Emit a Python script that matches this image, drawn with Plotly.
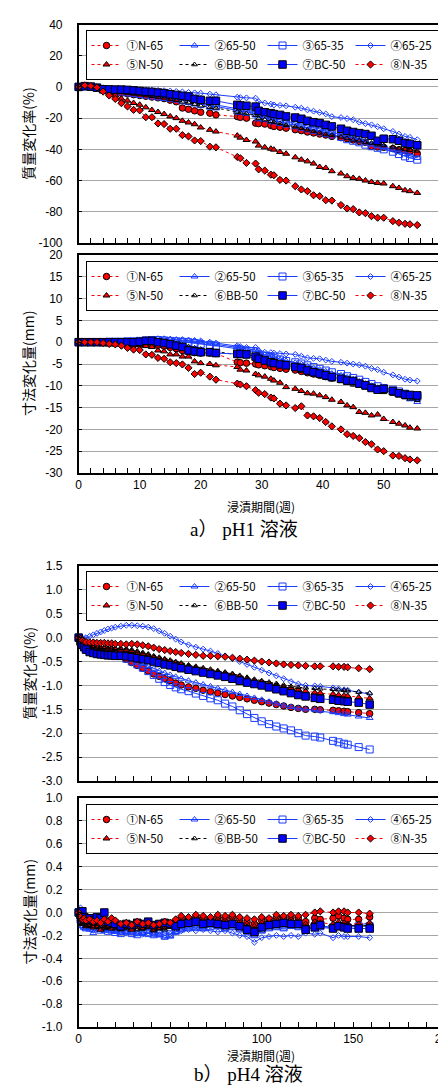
import plotly.graph_objects as go

# ---------------- labels ----------------
LABELS = ["①N-65", "②65-50", "③65-35", "④65-25", "⑤N-50", "⑥BB-50", "⑦BC-50", "⑧N-35"]

# ---------------- pH1 data (weeks) ----------------
WEEKS_PH1 = [0, 1, 2, 3, 4, 5, 6, 7, 8, 9, 10, 11, 12, 13, 14, 15, 16, 17, 18, 19, 20, 21.5, 22.5,
             26, 26.5, 27.5, 29, 29.5, 30.5, 31.5, 32, 33, 34, 35.5, 36.5, 37.5, 38.5, 39.5, 40.5, 41.5,
             43, 44, 45, 46, 47, 48, 49, 50, 51.5, 52.5, 53.5, 54.3, 55.5]

# mass change (%)
PH1_MASS_1 = [0, 0.5, 0, -0.5, -1.5, -2.5, -3.5, -4, -4.5, -5, -5.5, -6, -6.5, -7, -7.5, -8.5, -9.5, -13.5, -14.3, -15.3, -16.2, -16.8, -17.9,
              -19, -19.5, -20, -23.2, -23.5, -23.8, -24.7, -25.3, -25.8, -26.4, -27.4, -28, -28.9, -29.5, -30.2, -30.8, -31.7,
              -32.5, -33.2, -34, -34.9, -35.5, -38.1, -38.5, -38.7, -39.5, -40.2, -40.8, -41.3, -42.8]
PH1_MASS_2 = [0, 0.3, 0, -0.3, -1, -1.5, -2, -2.5, -3, -3.5, -4, -4.5, -5, -5.5, -6, -6.5, -7, -7.5, -8, -9, -10, -11, -11.5,
              -14, -14.5, -15, -16, -18, -18.8, -19.5, -20, -21, -22, -23, -24, -25, -26, -27, -28, -29,
              -30.5, -31.5, -33, -34, -35, -36.5, -37.5, -38.5, -40, -41.5, -43, -44, -45.5]
PH1_MASS_3 = [0, 0.3, 0, -0.5, -1.5, -2, -2.5, -3, -3.5, -4, -4.5, -5, -5.5, -6, -6.5, -7, -7.5, -8.5, -9, -10, -11, -12, -12.5,
              -15, -15.5, -16, -17, -19.5, -20, -21, -21.5, -22.5, -23.5, -24.5, -25.5, -26.5, -27.5, -28.5, -29.5, -30.5,
              -32, -33.5, -34.5, -35.5, -37, -38, -39, -40, -41.5, -43, -44.5, -45.5, -46.6]
PH1_MASS_4 = [0, 0.5, 0.3, 0, -0.5, -0.8, -1, -1.2, -1.3, -1.5, -1.7, -1.9, -2, -2.2, -2.4, -2.6, -2.9, -3.2, -3.5, -3.8, -4, -4.6, -5,
              -6.6, -6.8, -7.0, -7.2, -9.5, -10.3, -11.0, -11.5, -11.8, -12.1, -13.0, -13.6, -14.7, -15.5, -16.4, -17.3, -19,
              -19.6, -20.3, -21, -22.6, -23.5, -24.3, -25.5, -26.8, -28.5, -30.2, -31.7, -32.3, -33.8]
PH1_MASS_5 = [0, 1, 0.5, -0.3, -2.5, -4, -5.4, -7.5, -8.8, -10.3, -11.4, -13.1, -14.8, -16.1, -17.4, -18.9, -20, -21.7, -22.8, -23.9, -26, -27.5, -28.6,
              -31.2, -32.5, -34, -35, -37.6, -38.7, -39.6, -40.2, -41.7, -42.8, -45.1, -46.6, -47.7, -49.1, -51.3, -51.9, -54,
              -55.5, -57.2, -58.3, -58.9, -60, -60.9, -61.5, -61.9, -63.6, -64.7, -66.2, -66.8, -67.9]
PH1_MASS_6 = [0, 0.3, 0, -0.5, -1.5, -2, -3, -3.5, -4, -4.5, -5, -5.5, -6, -6.5, -7, -8, -8.5, -9.5, -10, -11, -12, -13, -13.5,
              -16, -16.5, -17, -18, -20, -21, -22, -22.5, -23.5, -24.5, -25.5, -26.5, -27.5, -28.5, -29.5, -30.5, -31,
              -32, -33, -34, -34.5, -35.5, -36, -37, -37.5, -38.5, -39.5, -40, -40.5, -41]
PH1_MASS_7 = [0, 0.5, 0.2, -0.5, -1.5, -1.6, -1.7, -1.7, -1.9, -2.2, -2.6, -3, -3.2, -3.6, -4, -4.7, -5.1, -5.7, -6.2, -7.7, -8.3, -8.9, -8.9,
              -11.5, -11.9, -12.1, -12.6, -15.3, -16.2, -16.8, -17.4, -17.9, -18.9, -19.6, -20.4, -21.7, -22.6, -23.2, -24.3, -25.3,
              -26.8, -28.1, -28.9, -29.6, -30.2, -31.3, -34.5, -33.2, -33.5, -34.5, -36, -36.5, -37.4]
PH1_MASS_8 = [0, 1, 0.6, -0.3, -3, -5.5, -7.7, -10.4, -12.5, -14.7, -15, -19.4, -19.4, -23.4, -23.8, -26.8, -26.8, -30.9, -31.7, -34.3, -34.7, -38.3, -38.7,
              -44.9, -45.7, -48.7, -49.1, -52.8, -53.6, -56.2, -56.6, -59.6, -60, -63.6, -65.7, -66.8, -69.4, -70, -72.6, -72.8,
              -75.7, -77.9, -78.3, -80.4, -80.9, -82.8, -83.8, -83.8, -86, -87, -87.7, -88, -88.5]

# dimension change (mm)
PH1_SIZE_1 = [0, 0, 0, 0, -0.1, -0.2, -0.3, -0.4, -0.5, -0.6, -0.5, -0.4, -0.5, -0.7, -0.9, -1.2, -1.5, -1.9, -2.2, -2.4, -2.5, -2.5, -2.6,
              -4.6, -4.7, -4.8, -5.0, -5.2, -5.4, -5.6, -5.8, -6.0, -6.2, -6.4, -6.7, -7.0, -7.3, -7.6, -7.9, -8.2,
              -8.5, -8.8, -9.1, -9.5, -9.8, -10.2, -10.6, -10.9, -11.3, -11.7, -12.0, -12.3, -12.6]
PH1_SIZE_2 = [0, 0, 0, 0, 0.1, 0.1, 0.2, 0.2, 0.2, 0.3, 0.4, 0.6, 0.7, 0.8, 0.7, 0.6, 0.5, 0.4, 0.3, 0.2, 0, -0.3, -0.5,
              -1.2, -1.4, -1.6, -1.8, -2.5, -2.9, -3.3, -3.6, -4.0, -4.3, -4.7, -5.0, -5.5, -5.9, -6.3, -6.7, -7.2,
              -7.6, -8.1, -8.5, -9.0, -9.5, -10.0, -10.6, -11.0, -11.6, -12.1, -12.6, -13.1, -13.7]
PH1_SIZE_3 = [0, 0, 0, 0, 0, 0.1, 0.1, 0.1, 0.2, 0.2, 0.3, 0.4, 0.5, 0.5, 0.4, 0.3, 0.2, 0.1, 0, -0.2, -0.4, -0.6, -0.8,
              -1.5, -1.7, -1.9, -2.1, -2.8, -3.1, -3.4, -3.7, -4.0, -4.3, -4.6, -4.9, -5.3, -5.7, -6.1, -6.5, -6.9,
              -7.3, -7.8, -8.2, -8.6, -9.1, -9.6, -10.1, -10.5, -10.9, -11.3, -11.8, -12.2, -12.6]
PH1_SIZE_4 = [0, 0, 0, 0, 0.1, 0.1, 0.2, 0.2, 0.2, 0.3, 0.4, 0.5, 0.6, 0.7, 0.8, 0.7, 0.6, 0.6, 0.5, 0.4, 0.3, 0, -0.2,
              -0.8, -1.0, -1.2, -1.2, -1.9, -2.3, -2.4, -2.5, -2.6, -2.7, -2.8, -3.2, -3.6, -3.7, -3.8, -4.1, -4.4,
              -4.6, -4.8, -5.0, -5.2, -5.5, -6.0, -6.3, -6.9, -7.5, -8.0, -8.5, -8.7, -8.9]
PH1_SIZE_5 = [0, 0, 0, 0, -0.1, -0.2, -0.3, -0.4, -0.5, -0.6, -0.7, -0.9, -1.1, -1.9, -2.1, -2.8, -2.8, -3.3, -3.3, -4.4, -4.8, -5.0, -5.3,
              -5.7, -6.3, -6.5, -7.3, -7.6, -7.9, -8.4, -8.8, -9.3, -10.3, -10.7, -11.2, -11.7, -11.8, -12.2, -12.6, -13.2,
              -13.7, -14.5, -14.9, -16, -16.2, -16.8, -16.6, -17.6, -18.3, -18.7, -19.1, -19.6, -19.8]
PH1_SIZE_6 = [0, 0, 0, 0, 0, 0, 0, 0.1, 0.1, 0.2, 0.2, 0.3, 0.3, 0.2, 0, -0.2, -0.4, -0.7, -1.0, -1.3, -1.6, -1.9, -2.1,
              -2.9, -3.1, -3.3, -3.6, -4.1, -4.4, -4.8, -5.1, -5.5, -5.8, -6.2, -6.6, -7.0, -7.4, -7.8, -8.2, -8.6,
              -9.0, -9.4, -9.8, -10.1, -10.5, -10.8, -11.2, -11.5, -11.9, -12.3, -12.7, -13.0, -13.3]
PH1_SIZE_7 = [0, 0, 0, 0, 0, 0, 0, 0, 0, 0, 0.1, 0.3, 0.3, 0, -0.2, -0.5, -0.8, -1.1, -1.9, -2.1, -2.3, -2.3, -2.5,
              -2.7, -2.7, -2.8, -3.3, -3.8, -4.2, -4.6, -4.8, -5.1, -5.3, -5.7, -5.9, -6.5, -6.9, -7.2, -7.6, -8.0,
              -8.4, -8.8, -8.9, -9.5, -9.9, -10.5, -10.9, -10.7, -11.2, -11.7, -12.0, -12.1, -12.2]
PH1_SIZE_8 = [0, 0, 0, 0, -0.2, -0.4, -0.5, -0.8, -1.3, -1.7, -1.8, -2.8, -2.9, -3.6, -3.8, -4.6, -4.8, -5.1, -5.9, -7.3, -7.0, -7.9, -8.6,
              -9.5, -9.7, -10.1, -11, -11.6, -11.9, -12.7, -12.9, -14.1, -14.5, -15.1, -14.7, -16.8, -17, -17.4, -18.3, -19.3,
              -20, -21.1, -21.5, -22, -22.9, -23.4, -24.6, -25, -26, -26.1, -26.6, -26.9, -27.1]

# ---------------- pH4 data (weeks) ----------------
WEEKS_PH4 = [0, 1, 2, 3, 4, 6, 8, 10, 12, 14, 16, 18, 20, 23, 26, 29, 32, 35, 38, 41, 44, 47, 50, 53, 56,
             60, 64, 68, 72, 76, 80, 84, 88, 92, 96, 100, 104, 108, 112, 116, 120, 124, 129, 132, 139, 142, 145, 147, 153, 159]

PH4_MASS_1 = [0, -0.05, -0.1, -0.14, -0.17, -0.21, -0.24, -0.26, -0.27, -0.28, -0.29, -0.3, -0.31, -0.32, -0.45, -0.52, -0.58, -0.64, -0.7, -0.76,
              -0.81, -0.86, -0.9, -0.95, -0.99, -1.03, -1.06, -1.1, -1.13, -1.16, -1.19, -1.22, -1.25, -1.28, -1.31, -1.34, -1.37, -1.4, -1.43, -1.46,
              -1.48, -1.5, -1.5, -1.51, -1.52, -1.53, -1.54, -1.55, -1.57, -1.59]
PH4_MASS_2 = [0, -0.06, -0.12, -0.16, -0.2, -0.24, -0.27, -0.29, -0.3, -0.31, -0.32, -0.33, -0.34, -0.36, -0.4, -0.45, -0.5, -0.55, -0.6, -0.65,
              -0.7, -0.74, -0.78, -0.82, -0.86, -0.9, -0.94, -0.98, -1.02, -1.06, -1.1, -1.14, -1.18, -1.22, -1.26, -1.3, -1.34, -1.38, -1.42, -1.45,
              -1.48, -1.5, -1.51, -1.53, -1.56, -1.58, -1.6, -1.61, -1.65, -1.68]
PH4_MASS_3 = [0, -0.06, -0.12, -0.17, -0.21, -0.25, -0.28, -0.3, -0.31, -0.32, -0.33, -0.34, -0.35, -0.38, -0.44, -0.5, -0.56, -0.63, -0.7, -0.78,
              -0.86, -0.93, -0.99, -1.04, -1.08, -1.12, -1.17, -1.22, -1.27, -1.31, -1.38, -1.44, -1.52, -1.6, -1.68, -1.75, -1.81, -1.86, -1.9, -1.94,
              -2.0, -2.05, -2.07, -2.09, -2.16, -2.19, -2.22, -2.24, -2.29, -2.34]
PH4_MASS_4 = [0, -0.02, -0.03, -0.02, 0, 0.03, 0.06, 0.09, 0.12, 0.15, 0.18, 0.2, 0.22, 0.24, 0.26, 0.26, 0.25, 0.24, 0.22, 0.19,
              0.14, 0.09, 0.03, -0.03, -0.09, -0.15, -0.2, -0.24, -0.28, -0.33, -0.38, -0.44, -0.5, -0.56, -0.62, -0.68, -0.74, -0.8, -0.86, -0.92,
              -0.97, -1.0, -1.01, -1.02, -1.05, -1.07, -1.09, -1.1, -1.14, -1.18]
PH4_MASS_5 = [0, -0.05, -0.09, -0.12, -0.15, -0.18, -0.2, -0.21, -0.22, -0.22, -0.23, -0.23, -0.24, -0.25, -0.26, -0.28, -0.31, -0.34, -0.37, -0.41,
              -0.44, -0.47, -0.5, -0.53, -0.56, -0.6, -0.63, -0.66, -0.69, -0.72, -0.75, -0.78, -0.82, -0.86, -0.9, -0.93, -0.97, -1.0, -1.03, -1.06,
              -1.09, -1.12, -1.15, -1.16, -1.18, -1.2, -1.21, -1.22, -1.25, -1.27]
PH4_MASS_6 = [0, -0.04, -0.08, -0.1, -0.13, -0.16, -0.18, -0.19, -0.2, -0.2, -0.21, -0.21, -0.22, -0.22, -0.23, -0.25, -0.28, -0.31, -0.34, -0.38,
              -0.41, -0.44, -0.47, -0.5, -0.53, -0.57, -0.6, -0.63, -0.66, -0.69, -0.72, -0.75, -0.79, -0.83, -0.87, -0.9, -0.93, -0.96, -0.99, -1.02,
              -1.04, -1.05, -1.06, -1.07, -1.08, -1.09, -1.1, -1.11, -1.14, -1.16]
PH4_MASS_7 = [0, -0.08, -0.15, -0.2, -0.25, -0.3, -0.32, -0.34, -0.35, -0.36, -0.37, -0.37, -0.38, -0.38, -0.39, -0.41, -0.43, -0.45, -0.47, -0.5,
              -0.53, -0.56, -0.58, -0.61, -0.64, -0.67, -0.7, -0.73, -0.76, -0.79, -0.82, -0.86, -0.9, -0.94, -0.97, -1.0, -1.04, -1.08, -1.12, -1.16,
              -1.2, -1.23, -1.26, -1.28, -1.3, -1.32, -1.33, -1.34, -1.36, -1.4]
PH4_MASS_8 = [0, -0.03, -0.06, -0.08, -0.09, -0.1, -0.1, -0.11, -0.11, -0.11, -0.12, -0.12, -0.13, -0.13, -0.14, -0.13, -0.14, -0.16, -0.18, -0.21,
              -0.24, -0.26, -0.28, -0.3, -0.32, -0.34, -0.36, -0.38, -0.38, -0.39, -0.4, -0.42, -0.44, -0.46, -0.48, -0.5, -0.52, -0.54, -0.56, -0.57,
              -0.58, -0.59, -0.6, -0.6, -0.6, -0.61, -0.61, -0.62, -0.64, -0.66]

PH4_SIZE_1 = [0, -0.05, -0.08, -0.07, -0.09, -0.1, -0.08, -0.11, -0.09, -0.1, -0.12, -0.09, -0.1, -0.13, -0.11, -0.12, -0.1, -0.13, -0.11, -0.12,
              -0.1, -0.12, -0.11, -0.08, -0.05, -0.06, -0.04, -0.05, -0.06, -0.04, -0.05, -0.04, -0.06, -0.08, -0.1, -0.07, -0.06, -0.04, -0.05, -0.04,
              -0.05, -0.08, -0.05, -0.06, -0.05, -0.03, -0.05, -0.06, -0.06, -0.04]
PH4_SIZE_2 = [0, -0.08, -0.12, -0.13, -0.14, -0.15, -0.18, -0.14, -0.15, -0.16, -0.15, -0.16, -0.17, -0.18, -0.17, -0.18, -0.19, -0.18, -0.17, -0.19,
              -0.2, -0.22, -0.21, -0.17, -0.15, -0.14, -0.13, -0.14, -0.12, -0.13, -0.14, -0.13, -0.15, -0.17, -0.2, -0.16, -0.14, -0.13, -0.14, -0.12,
              -0.13, -0.15, -0.12, -0.13, -0.14, -0.12, -0.13, -0.12, -0.11, -0.09]
PH4_SIZE_3 = [0, -0.06, -0.1, -0.12, -0.13, -0.12, -0.14, -0.13, -0.15, -0.14, -0.16, -0.15, -0.17, -0.18, -0.16, -0.18, -0.19, -0.17, -0.18, -0.19,
              -0.18, -0.2, -0.19, -0.16, -0.14, -0.13, -0.12, -0.13, -0.12, -0.11, -0.13, -0.12, -0.14, -0.16, -0.19, -0.15, -0.13, -0.12, -0.13, -0.11,
              -0.12, -0.14, -0.12, -0.12, -0.13, -0.12, -0.12, -0.13, -0.12, -0.12]
PH4_SIZE_4 = [0, 0.04, 0.02, -0.08, -0.1, -0.12, -0.11, -0.13, -0.12, -0.14, -0.13, -0.15, -0.16, -0.17, -0.18, -0.17, -0.18, -0.19, -0.18, -0.19,
              -0.17, -0.18, -0.19, -0.17, -0.16, -0.15, -0.16, -0.15, -0.16, -0.17, -0.16, -0.18, -0.2, -0.21, -0.26, -0.22, -0.21, -0.2, -0.21, -0.2,
              -0.21, -0.18, -0.19, -0.18, -0.22, -0.2, -0.21, -0.21, -0.21, -0.22]
PH4_SIZE_5 = [0, -0.06, -0.1, -0.09, -0.12, -0.11, -0.13, -0.12, -0.15, -0.13, -0.12, -0.14, -0.12, -0.14, -0.13, -0.15, -0.13, -0.14, -0.12, -0.15,
              -0.14, -0.13, -0.12, -0.1, -0.08, -0.07, -0.06, -0.07, -0.08, -0.06, -0.07, -0.06, -0.08, -0.1, -0.12, -0.09, -0.08, -0.06, -0.07, -0.06,
              -0.07, -0.1, -0.08, -0.09, -0.1, -0.08, -0.09, -0.1, -0.1, -0.09]
PH4_SIZE_6 = [0, -0.05, -0.09, -0.1, -0.11, -0.12, -0.1, -0.13, -0.12, -0.14, -0.13, -0.12, -0.14, -0.15, -0.14, -0.13, -0.15, -0.14, -0.13, -0.16,
              -0.14, -0.15, -0.13, -0.11, -0.09, -0.1, -0.08, -0.09, -0.1, -0.08, -0.09, -0.08, -0.1, -0.12, -0.14, -0.11, -0.1, -0.08, -0.09, -0.08,
              -0.09, -0.12, -0.1, -0.11, -0.12, -0.1, -0.11, -0.11, -0.12, -0.11]
PH4_SIZE_7 = [0, -0.02, 0.01, -0.04, -0.06, -0.05, -0.07, -0.04, -0.05, 0.0, -0.08, -0.09, -0.1, -0.12, -0.1, -0.11, -0.09, -0.1, -0.08, -0.11,
              -0.1, -0.09, -0.1, -0.12, -0.1, -0.09, -0.08, -0.1, -0.09, -0.1, -0.11, -0.1, -0.12, -0.15, -0.17, -0.13, -0.11, -0.1, -0.09, -0.1,
              -0.1, -0.15, -0.13, -0.11, -0.14, -0.12, -0.13, -0.14, -0.14, -0.14]
PH4_SIZE_8 = [0, -0.04, -0.06, -0.05, -0.07, -0.06, -0.08, -0.07, -0.09, -0.06, -0.08, -0.05, -0.07, -0.1, -0.09, -0.11, -0.08, -0.1, -0.09, -0.11,
              -0.1, -0.08, -0.09, -0.06, -0.03, -0.04, -0.02, -0.03, -0.04, -0.02, -0.03, -0.02, -0.04, -0.05, -0.06, -0.04, -0.05, -0.02, -0.03, -0.02,
              -0.03, -0.02, 0.0, 0.01, 0.0, 0.01, 0.01, 0.0, 0.0, -0.01]

# ---------------- tick labels ----------------
Y1_TICKS = [40, 20, 0, -20, -40, -60, -80, -100]
Y1_TEXT = ["40", "20", "0", "-20", "-40", "-60", "-80", "-100"]
Y2_TICKS = [20, 15, 10, 5, 0, -5, -10, -15, -20, -25, -30]
Y2_TEXT = ["20", "15", "10", "5", "0", "-5", "-10", "-15", "-20", "-25", "-30"]
Y3_TICKS = [1.5, 1.0, 0.5, 0.0, -0.5, -1.0, -1.5, -2.0, -2.5, -3.0]
Y3_TEXT = ["1.5", "1.0", "0.5", "0.0", "-0.5", "-1.0", "-1.5", "-2.0", "-2.5", "-3.0"]
Y4_TICKS = [1.0, 0.8, 0.6, 0.4, 0.2, 0.0, -0.2, -0.4, -0.6, -0.8, -1.0]
Y4_TEXT = ["1.0", "0.8", "0.6", "0.4", "0.2", "0.0", "-0.2", "-0.4", "-0.6", "-0.8", "-1.0"]

Y_TITLE_MASS = "質量変化率(%)"
Y_TITLE_SIZE = "寸法変化量(mm)"
X_TITLE = "浸漬期間(週)"
CAPTION_A = "a） pH1 溶液"
CAPTION_B = "b） pH4 溶液"

# ---------------- styles ----------------
RED = "#ff0000"
BLUE = "#1a3cff"
DASH = "3px,3px"
STYLES = [
    dict(line=dict(color=RED, width=1, dash=DASH),
         marker=dict(symbol="circle", size=6.5, color=RED, line=dict(color="black", width=1))),
    dict(line=dict(color=BLUE, width=1),
         marker=dict(symbol="triangle-up-open", size=6, color=BLUE, line=dict(width=1))),
    dict(line=dict(color=BLUE, width=1),
         marker=dict(symbol="square-open", size=7, color=BLUE, line=dict(width=1))),
    dict(line=dict(color=BLUE, width=1),
         marker=dict(symbol="diamond-open", size=4.5, color=BLUE, line=dict(width=1))),
    dict(line=dict(color=RED, width=1, dash=DASH),
         marker=dict(symbol="triangle-up", size=6, color=RED, line=dict(color="black", width=1))),
    dict(line=dict(color="black", width=1, dash=DASH),
         marker=dict(symbol="triangle-up-open", size=5, color="black", line=dict(width=1))),
    dict(line=dict(color=BLUE, width=1),
         marker=dict(symbol="square", size=7.5, color="#0000ff", line=dict(color="black", width=1))),
    dict(line=dict(color=RED, width=1, dash=DASH),
         marker=dict(symbol="diamond", size=5.5, color=RED, line=dict(color="black", width=1))),
]

PANELS = [
    (WEEKS_PH1, [PH1_MASS_1, PH1_MASS_2, PH1_MASS_3, PH1_MASS_4, PH1_MASS_5, PH1_MASS_6, PH1_MASS_7, PH1_MASS_8]),
    (WEEKS_PH1, [PH1_SIZE_1, PH1_SIZE_2, PH1_SIZE_3, PH1_SIZE_4, PH1_SIZE_5, PH1_SIZE_6, PH1_SIZE_7, PH1_SIZE_8]),
    (WEEKS_PH4, [PH4_MASS_1, PH4_MASS_2, PH4_MASS_3, PH4_MASS_4, PH4_MASS_5, PH4_MASS_6, PH4_MASS_7, PH4_MASS_8]),
    (WEEKS_PH4, [PH4_SIZE_1, PH4_SIZE_2, PH4_SIZE_3, PH4_SIZE_4, PH4_SIZE_5, PH4_SIZE_6, PH4_SIZE_7, PH4_SIZE_8]),
]

W, H = 446, 1091
ML, MR = 60, 9                 # margins so that the legend wraps after 4 entries
PW = W - ML - MR


def fx(px):
    return (px - ML) / PW


def fy(py):
    return 1 - py / H


X0, X1 = 70.7, 436.7
PANEL_PX = [(16.5, 235), (247, 465), (558, 773), (790, 1019)]
LEGEND_TOP = [22, 253, 563, 796]

fig = go.Figure()
for p, (weeks, series) in enumerate(PANELS):
    sfx = "" if p == 0 else str(p + 1)
    for i, ys in enumerate(series):
        st = STYLES[i]
        fig.add_trace(go.Scatter(
            x=weeks, y=ys, mode="lines+markers", name=LABELS[i],
            line=st["line"], marker=st["marker"],
            xaxis="x" + sfx, yaxis="y" + sfx, legend="legend" + sfx,
            cliponaxis=False,
        ))

TICKFONT = dict(family="Liberation Sans, DejaVu Sans", size=12, color="black")
layout = dict(
    template="none",
    width=W, height=H, margin=dict(l=ML, r=MR, t=0, b=0, autoexpand=False),
    paper_bgcolor="white", plot_bgcolor="white", showlegend=True,
    font=dict(family="Noto Sans CJK JP", color="black"),
)

Y_SPECS = [
    ([-100, 40], Y1_TICKS, Y1_TEXT),
    ([-30, 20], Y2_TICKS, Y2_TEXT),
    ([-3, 1.5], Y3_TICKS, Y3_TEXT),
    ([-1, 1], Y4_TICKS, Y4_TEXT),
]
X_SPECS = [
    ([0, 60], 10, 2, False),
    ([0, 60], 10, 2, True),
    ([0, 200], 50, 10, False),
    ([0, 200], 50, 10, True),
]

annotations = []
for p in range(4):
    sfx = "" if p == 0 else str(p + 1)
    top, bot = PANEL_PX[p]
    xr, dt, mdt, showlab = X_SPECS[p]
    yr, tv, tt = Y_SPECS[p]
    layout["xaxis" + sfx] = dict(
        domain=[fx(X0), min(1.0, fx(X1))], range=xr, anchor="y" + sfx, automargin=False,
        showgrid=False, zeroline=False, showline=True, linecolor="black", linewidth=1.5, mirror=True,
        ticks="inside", ticklen=5, tickcolor="black", tickwidth=1, dtick=dt, tick0=0,
        minor=dict(dtick=mdt, ticks="inside", ticklen=5, tickcolor="black", tickwidth=1, showgrid=False),
        showticklabels=showlab, tickfont=TICKFONT, ticklabelstandoff=0, ticklabeloverflow="allow",
    )
    layout["yaxis" + sfx] = dict(
        domain=[fy(bot), fy(top)], range=yr, anchor="x" + sfx, automargin=False,
        tickmode="array", tickvals=tv, ticktext=tt,
        showgrid=True, gridcolor="#a6a6a6", gridwidth=1.3, zeroline=False,
        showline=True, linecolor="black", linewidth=1.5, mirror=True,
        ticks="inside", ticklen=4, tickcolor="black",
        tickfont=TICKFONT, ticklabelstandoff=12, ticklabeloverflow="allow",
    )
    layout["legend" + sfx] = dict(
        orientation="h", x=fx(77.5), y=fy(LEGEND_TOP[p]), xanchor="left", yanchor="top",
        bgcolor="white", bordercolor="black", borderwidth=1,
        entrywidth=43, entrywidthmode="pixels", itemwidth=30,
        font=dict(family="Noto Sans CJK JP", size=11.5, color="black"),
        traceorder="normal",
    )
    annotations.append(dict(
        text=Y_TITLE_MASS if p in (0, 2) else Y_TITLE_SIZE,
        x=fx(20), y=fy((top + bot) / 2), xref="paper", yref="paper",
        textangle=-90, showarrow=False, xanchor="center", yanchor="middle",
        font=dict(family="Noto Sans CJK JP", size=14, color="black"),
    ))

annotations.append(dict(text=X_TITLE, x=fx(253), y=fy(499), xref="paper", yref="paper",
                        showarrow=False, font=dict(family="Noto Sans CJK JP", size=12, color="black")))
annotations.append(dict(text=X_TITLE, x=fx(253), y=fy(1058), xref="paper", yref="paper",
                        showarrow=False, font=dict(family="Noto Sans CJK JP", size=12, color="black")))
annotations.append(dict(text=CAPTION_A, x=fx(236), y=fy(521), xref="paper", yref="paper",
                        showarrow=False, font=dict(family="Liberation Serif, Noto Sans CJK JP", size=19, color="black")))
annotations.append(dict(text=CAPTION_B, x=fx(240), y=fy(1079), xref="paper", yref="paper",
                        showarrow=False, font=dict(family="Liberation Serif, Noto Sans CJK JP", size=19, color="black")))
layout["annotations"] = annotations

fig.update_layout(**layout)
fig.write_html("out.html")
